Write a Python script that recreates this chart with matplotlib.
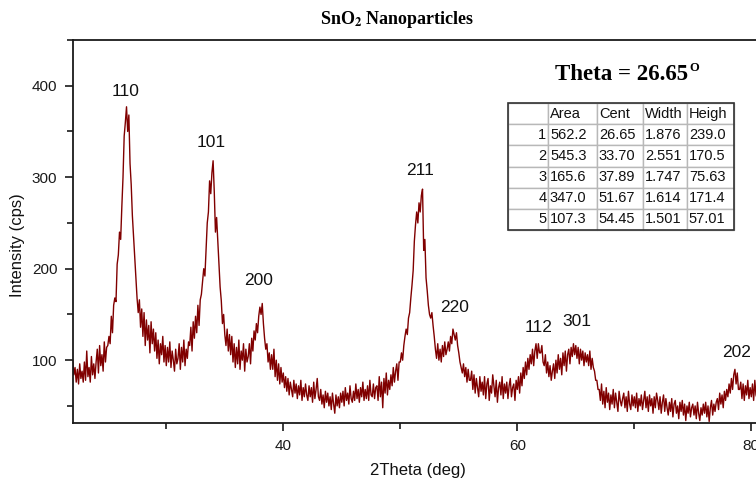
import matplotlib
matplotlib.use('Agg')
import matplotlib.pyplot as plt
from matplotlib.patches import Rectangle
from matplotlib.ticker import MultipleLocator

# XRD scan at 0.1 deg steps starting at 22.0 deg
scan_start = 22.0
scan_step = 0.1
intensity = [
    100, 84, 92, 76, 90, 74, 96, 80, 88, 76,          # 22
    98, 78, 110, 82, 92, 76, 104, 84, 96, 80,         # 23
    98, 112, 86, 116, 94, 106, 88, 120, 98, 114,      # 24
    116, 126, 118, 148, 130, 160, 168, 164, 205, 215, # 25
    240, 232, 268, 300, 345, 360, 377, 350, 368, 315, # 26
    292, 258, 235, 210, 188, 168, 152, 166, 136, 156, # 27
    126, 152, 116, 144, 122, 138, 108, 142, 118, 134, # 28
    110, 130, 102, 122, 96, 118, 106, 126, 98, 116,   # 29
    94, 114, 98, 120, 92, 110, 100, 88, 112, 96,      # 30
    102, 118, 90, 114, 98, 122, 94, 112, 102, 120,    # 31
    116, 136, 110, 142, 124, 148, 130, 160, 138, 166, # 32
    172, 186, 200, 192, 222, 250, 262, 296, 282, 305, # 33
    318, 284, 240, 256, 230, 205, 180, 165, 140, 150, # 34
    128, 116, 134, 110, 128, 106, 126, 98, 118, 92,   # 35
    114, 96, 122, 90, 110, 100, 118, 88, 112, 98,     # 36
    104, 118, 96, 124, 110, 132, 122, 140, 130, 148,  # 37
    158, 150, 162, 140, 124, 112, 118, 98, 108, 90,   # 38
    106, 90, 112, 82, 100, 78, 96, 74, 92, 76,        # 39
    86, 70, 82, 66, 80, 62, 76, 68, 60, 78,           # 40
    64, 74, 58, 72, 62, 78, 56, 70, 60, 74,           # 41
    62, 56, 72, 60, 70, 54, 76, 58, 68, 80,           # 42
    60, 56, 68, 52, 62, 48, 66, 54, 64, 50,           # 43
    60, 46, 64, 52, 42, 62, 50, 60, 48, 64,           # 44
    54, 66, 50, 70, 56, 64, 52, 72, 58, 54,           # 45
    66, 56, 74, 58, 68, 54, 70, 60, 76, 56,           # 46
    68, 58, 72, 56, 78, 62, 60, 74, 58, 70,           # 47
    72, 56, 82, 60, 76, 48, 80, 64, 86, 62,           # 48
    78, 68, 84, 72, 92, 76, 88, 96, 78, 98,           # 49
    98, 108, 100, 116, 126, 134, 128, 146, 152, 168,  # 50
    182, 198, 230, 248, 262, 250, 272, 262, 280, 287, # 51
    220, 232, 190, 176, 160, 150, 146, 152, 138, 126, # 52
    112, 102, 118, 100, 112, 98, 116, 104, 120, 106,  # 53
    112, 120, 110, 126, 118, 134, 128, 122, 130, 116, # 54
    108, 98, 92, 86, 96, 82, 92, 76, 90, 78,          # 55
    78, 88, 68, 84, 64, 80, 70, 60, 82, 66,           # 56
    76, 62, 82, 58, 74, 80, 56, 72, 64, 84,           # 57
    72, 60, 78, 54, 70, 76, 62, 82, 58, 74,           # 58
    64, 76, 58, 72, 80, 60, 70, 74, 56, 78,           # 59
    68, 82, 64, 86, 72, 92, 80, 98, 84, 102,          # 60
    90, 106, 96, 112, 94, 110, 118, 102, 118, 108,    # 61
    108, 116, 98, 94, 106, 86, 98, 82, 94, 78,        # 62
    88, 96, 80, 100, 86, 106, 90, 102, 84, 108,       # 63
    94, 110, 88, 106, 112, 96, 114, 104, 118, 106,    # 64
    116, 102, 114, 96, 112, 100, 110, 94, 108, 98,    # 65
    106, 94, 110, 90, 102, 92, 88, 78, 78, 68,        # 66
    68, 56, 74, 52, 66, 48, 70, 54, 64, 46,           # 67
    62, 52, 68, 48, 64, 54, 44, 66, 56, 50,           # 68
    58, 64, 48, 60, 44, 66, 52, 46, 62, 50,           # 69
    60, 48, 64, 44, 58, 50, 62, 46, 56, 66,           # 70
    48, 60, 44, 62, 50, 58, 42, 60, 48, 64,           # 71
    56, 46, 60, 42, 54, 62, 44, 58, 48, 40,           # 72
    54, 44, 58, 38, 52, 56, 42, 50, 36, 54,           # 73
    44, 56, 40, 52, 34, 50, 42, 54, 38, 48,           # 74
    52, 40, 50, 36, 54, 42, 34, 48, 40, 52,           # 75
    42, 54, 38, 50, 33, 48, 56, 40, 52, 44,           # 76
    54, 58, 46, 64, 52, 62, 48, 66, 56, 68,           # 77
    60, 74, 64, 80, 68, 84, 90, 74, 86, 68,           # 78
    68, 76, 58, 74, 56, 72, 62, 78, 58, 70,           # 79
    60, 74, 56, 78, 62, 58, 72, 54, 68, 60,           # 80
]
two_theta = [scan_start + i * scan_step for i in range(len(intensity))]

# Miller indices written over the peaks
peak_labels = ['110', '101', '200', '211', '220', '112', '301', '202']
peak_label_x = [26.5, 33.8, 37.9, 51.7, 54.6, 61.8, 65.1, 78.7]
peak_label_y = [394, 338, 187, 307, 158, 136, 142, 108]

# peak fit table
fit_cols = ['', 'Area', 'Cent', 'Width', 'Heigh']
fit_index = ['1', '2', '3', '4', '5']
fit_area = ['562.2', '545.3', '165.6', '347.0', '107.3']
fit_cent = ['26.65', '33.70', '37.89', '51.67', '54.45']
fit_width = ['1.876', '2.551', '1.747', '1.614', '1.501']
fit_height = ['239.0', '170.5', '75.63', '171.4', '57.01']

plt.rcParams['font.family'] = ['Liberation Sans', 'DejaVu Sans']
plt.rcParams['mathtext.fontset'] = 'stix'
serif = ['Liberation Serif', 'DejaVu Serif']

W, H = 756, 483
fig = plt.figure(figsize=(W / 100, H / 100), dpi=100)
ax = fig.add_axes([72.7 / W, 1 - 423.3 / H, 702 / W, 383.3 / H])

ax.plot(two_theta, intensity, color='#800000', lw=1.0)
ax.set_xlim(22, 82)
ax.set_ylim(31, 450)

ax.xaxis.set_major_locator(MultipleLocator(20))
ax.xaxis.set_minor_locator(MultipleLocator(10))
ax.yaxis.set_major_locator(MultipleLocator(100))
ax.yaxis.set_minor_locator(MultipleLocator(50))
ax.tick_params(which='both', direction='out', top=False, right=False,
               width=1.2, labelsize=11, colors='#1a1a1a')
ax.tick_params(which='major', length=6, pad=5)
ax.tick_params(which='minor', length=4)
for s in ax.spines.values():
    s.set_linewidth(1.3)
    s.set_color('#1a1a1a')

for lab, px, py in zip(peak_labels, peak_label_x, peak_label_y):
    ax.text(px, py, lab, ha='center', va='center', fontsize=12.5, color='#111111')

fig.text(18 / W, 1 - 245 / H, 'Intensity (cps)', rotation=90, ha='center', va='center',
         fontsize=12, color='#111111')
fig.text(418 / W, 1 - 470 / H, '2Theta (deg)', ha='center', va='center',
         fontsize=12, color='#111111')

fig.text(397 / W, 1 - 20 / H, r'SnO$_\mathbf{2}$ Nanoparticles', ha='center', va='center',
         fontsize=13, fontweight='bold', family=serif)
theta_txt = fig.text(555 / W, 1 - 75 / H, 'Theta = 26.65', ha='left', va='center',
                     fontsize=16.5, fontweight='bold', family=serif)
ax.annotate('O', xy=(1.0, 1.0), xycoords=theta_txt, xytext=(1.0, 1.5),
            textcoords='offset points', ha='left', va='top',
            fontsize=9, fontweight='bold', family=serif, annotation_clip=False)

# fit table
tax = fig.add_axes([508 / W, 1 - 230 / H, 226 / W, 127 / H])
tax.axis('off')
rows = [list(r) for r in zip(fit_index, fit_area, fit_cent, fit_width, fit_height)]
col_w = [40, 49, 46, 44, 47]
tbl = tax.table(cellText=rows, colLabels=fit_cols, cellLoc='left', colLoc='left',
                colWidths=[c / sum(col_w) for c in col_w], bbox=[0, 0, 1, 1])
tbl.auto_set_font_size(False)
tbl.set_fontsize(10.5)
for (r, c), cell in tbl.get_celld().items():
    cell.set_edgecolor('#b8b8b8')
    cell.set_linewidth(1.0)
    cell.PAD = 0.04
    cell.get_text().set_color('#111111')
    if c == 0:
        cell.get_text().set_horizontalalignment('right')
tax.add_patch(Rectangle((0, 0), 1, 1, fill=False, edgecolor='#333333', lw=1.2,
                        transform=tax.transAxes, clip_on=False))

fig.savefig('out.png', dpi=100)
